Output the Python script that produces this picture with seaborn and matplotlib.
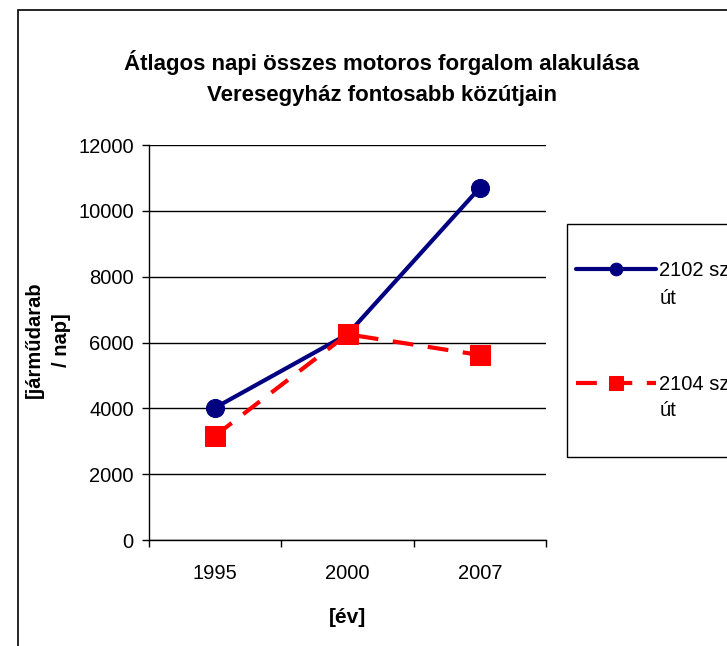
import matplotlib
matplotlib.use('Agg')
import matplotlib.pyplot as plt
from matplotlib.patches import Rectangle
import seaborn as sns
import pandas as pd

years = ['1995', '2000', '2007']
ut_2102 = [4020, 6250, 10700]
ut_2104 = [3170, 6250, 5620]
labels = ['2102 sz.', '2104 sz.']

NAVY = '#000080'
RED = '#FF0000'

sns.set_theme(style='white')
plt.rcParams['font.family'] = ['Liberation Sans', 'DejaVu Sans']
plt.rcParams['text.color'] = 'black'
plt.rcParams['axes.labelcolor'] = 'black'
plt.rcParams['xtick.color'] = 'black'
plt.rcParams['ytick.color'] = 'black'

df = pd.DataFrame({'ev': years, 'u2102': ut_2102, 'u2104': ut_2104})

fig = plt.figure(figsize=(7.27, 6.46), dpi=100)
fig.patch.set_facecolor('white')

# outer chart border (cut off at right/bottom like the source)
fig.patches.append(Rectangle((18 / 727, -0.05), 1.2, 1 - 10 / 646 + 0.05, transform=fig.transFigure,
                             fill=False, edgecolor='black', linewidth=1.2))

ax = fig.add_axes([149 / 727, 1 - 540 / 646, 397 / 727, 395 / 646])
sns.lineplot(data=df, x='ev', y='u2102', color=NAVY, linewidth=3, marker='o', markersize=13,
             markeredgecolor=NAVY, ax=ax, label=labels[0], sort=False)
sns.lineplot(data=df, x='ev', y='u2104', color=RED, linewidth=3, marker='s', markersize=14,
             markeredgecolor=RED, dashes=(5, 3.5), ax=ax, label=labels[1], sort=False)

ax.set_xlim(-0.5, 2.5)
ax.set_ylim(0, 12000)
ax.set_yticks(range(0, 12001, 2000))
ax.set_xticks([-0.5, 0.5, 1.5, 2.5])
ax.set_xticklabels([])
ax.set_xticks([0, 1, 2], minor=True)
ax.set_xticklabels(years, minor=True)
ax.tick_params(axis='x', which='major', direction='out', length=5, width=1, color='black')
ax.tick_params(axis='x', which='minor', length=0, labelsize=14.5, pad=17)
ax.tick_params(axis='y', direction='out', length=5, width=1, color='black', labelsize=14.5, pad=6)
ax.tick_params(left=True, bottom=True)
ax.grid(axis='y', color='black', linewidth=1)
ax.grid(axis='x', visible=False)
ax.set_axisbelow(True)
for s in ['top', 'right']:
    ax.spines[s].set_visible(False)
for s in ['left', 'bottom']:
    ax.spines[s].set_color('black')
    ax.spines[s].set_linewidth(1)

ax.set_xlabel('[év]', fontsize=15, fontweight='bold', labelpad=18)
ax.set_ylabel('[járműdarab\n/ nap]', fontsize=14.5, fontweight='bold', linespacing=1.55)
ax.yaxis.set_label_coords(-0.197, 0.506)

fig.text(382 / 727, 1 - 78 / 646, 'Átlagos napi összes motoros forgalom alakulása\nVeresegyház fontosabb közútjain',
         ha='center', va='center', fontsize=16, fontweight='bold', linespacing=1.6)

# legend box
fig.patches.append(Rectangle((567 / 727, 1 - 457 / 646), 0.4, 233 / 646, transform=fig.transFigure,
                             fill=False, edgecolor='black', linewidth=1))
handles, labs = ax.get_legend_handles_labels()
ax.legend_.remove()
fig.legend(handles, labs, loc='upper left', bbox_to_anchor=(576 / 727, 1 - 261 / 646),
           frameon=False, fontsize=14.5, handlelength=3.95, handletextpad=0.15, markerscale=0.7,
           labelspacing=4.7, borderaxespad=0, borderpad=0)
fig.text(660 / 727, 1 - 298 / 646, 'út', fontsize=14.5, va='center', ha='left')
fig.text(660 / 727, 1 - 411 / 646, 'út', fontsize=14.5, va='center', ha='left')

fig.savefig('out.png', dpi=100, facecolor='white')
